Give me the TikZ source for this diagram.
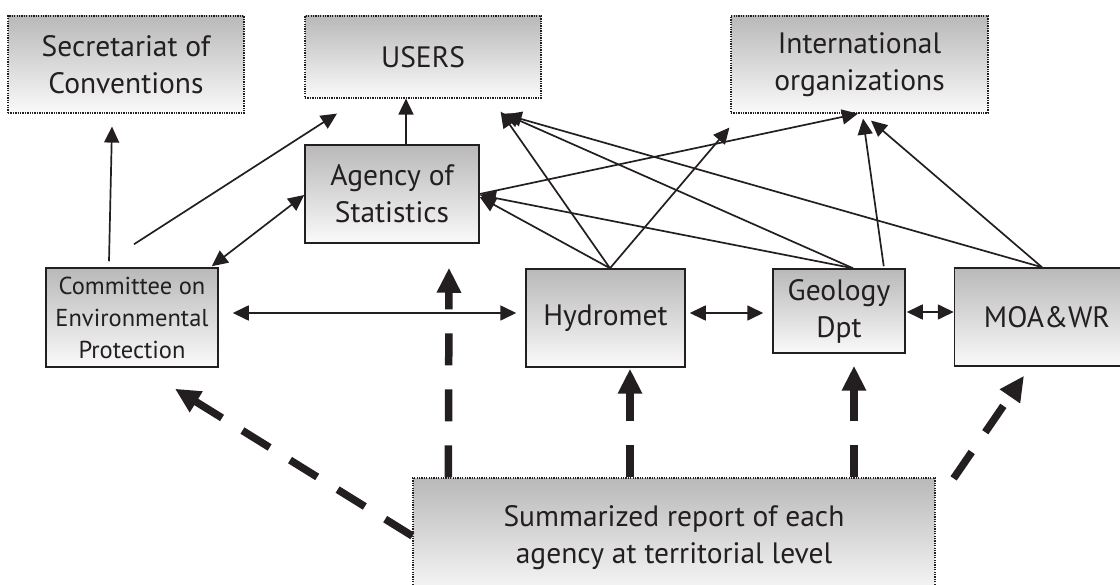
\documentclass[tikz,border=0pt]{standalone}
\usepackage{fontspec}
\setmainfont{PT Sans}
\usetikzlibrary{arrows.meta,calc}
\definecolor{ink}{HTML}{231F20}
\begin{document}
\begin{tikzpicture}[x=1pt,y=-1pt,
  box/.style={draw=ink, line width=1.5pt, top color=gray!55, bottom color=gray!4,
    inner sep=0pt, align=center, text=ink, font=\fontsize{29.5}{37}\selectfont},
  outbox/.style={box, line width=1.2pt, dash pattern=on 1.3pt off 1.1pt},
  link/.style={draw=ink, line width=1.7pt, -{Triangle[length=16pt,width=15pt]}},
  twoway/.style={draw=ink, line width=1.7pt,
    {Triangle[length=16pt,width=15pt]}-{Triangle[length=16pt,width=15pt]}},
  feed/.style={draw=ink, line width=7.5pt, dash pattern=on 32pt off 24pt,
    -{Triangle[length=25pt,width=23pt]}}
]
\useasboundingbox (0,0) rectangle (1120,585);
\clip (0,0) rectangle (1120,585);

% outside bodies
\node[outbox, minimum width=236pt, minimum height=97pt] (sec) at (126,64.5) {Secretariat of\\Conventions};
\node[outbox, minimum width=236pt, minimum height=82pt] (users) at (423,57) {USERS};
\node[outbox, minimum width=257pt, minimum height=97pt] (intl) at (859.5,64.5) {International\\organizations};

% agencies
\node[box, minimum width=174pt, minimum height=98pt] (agency) at (392,194) {Agency of\\Statistics};
\node[box, minimum width=172pt, minimum height=99pt, font=\fontsize{24.5}{32}\selectfont] (com) at (132,317.5) {Committee on\\Environmental\\Protection};
\node[box, minimum width=159pt, minimum height=98pt] (hyd) at (605.5,318) {Hydromet};
\node[box, minimum width=132pt, minimum height=84pt] (geo) at (839,311) {Geology\\Dpt};
\node[box, minimum width=185pt, minimum height=98pt] (moa) at (1047,317) {MOA\&WR};

% territorial reports
\node[outbox, minimum width=522pt, minimum height=120pt] (sum) at (674,538) {Summarized report of each\\agency at territorial level};

% reporting links
\draw[link] ($(com.north)+(-23,-6)$) -- ($(sec.south)+(-14,13)$);
\draw[link] ($(com.north)+(2,-23)$) -- ($(users.south)+(-86,15)$);
\draw[twoway] ($(com.north east)+(-7,-1)$) -- ($(agency.west)+(0,1)$);
\draw[link] ($(agency.north)+(14,0)$) -- ($(users.south)+(-17,0)$);

\draw[link] ($(hyd.north)+(4.5,0)$) -- ($(users.south east)+(-41,13)$);
\draw[link] ($(hyd.north)+(4.5,0)$) -- ($(agency.east)+(0,3)$);
\draw[link] ($(hyd.north)+(4.5,0)$) -- ($(intl.south west)+(-1,14)$);
\draw[link] (agency.east) -- ($(intl.south)+(-1.5,0)$);

\draw[link] ($(geo.north)+(14,0)$) -- ($(agency.east)+(0,1)$);
\draw[link] ($(geo.north)+(14,0)$) -- ($(users.south east)+(-38,15)$);
\draw[link] ($(geo.north east)+(-22,-2)$) -- ($(intl.south)+(3.5,5)$);

\draw[link] ($(moa.north)+(-5,0)$) -- ($(users.south east)+(-36,16)$);
\draw[link] ($(moa.north)+(-5,0)$) -- ($(intl.south)+(11.5,7)$);

% exchange between agencies
\draw[twoway] ($(com.east)+(14,-4.5)$) -- ($(hyd.west)+(-9,-5)$);
\draw[twoway] ($(hyd.east)+(4,-5)$) -- ($(geo.west)+(-9,2)$);
\draw[twoway] ($(geo.east)+(1,1)$) -- ($(moa.west)+(0,-5)$);

% territorial feeds
\draw[feed] ($(sum.west)+(0,-2)$) -- ($(com.south)+(43,21)$);
\draw[feed] ($(sum.north west)+(36,0)$) -- ($(agency.south)+(57,24)$);
\draw[feed] ($(sum.north)+(-44,0)$) -- ($(hyd.south)+(24.5,1)$);
\draw[feed] ($(sum.north)+(180,0)$) -- ($(geo.south)+(15,12)$);
\draw[feed] ($(sum.north east)+(18,1)$) -- ($(moa.south)+(-23,9)$);
\end{tikzpicture}
\end{document}
